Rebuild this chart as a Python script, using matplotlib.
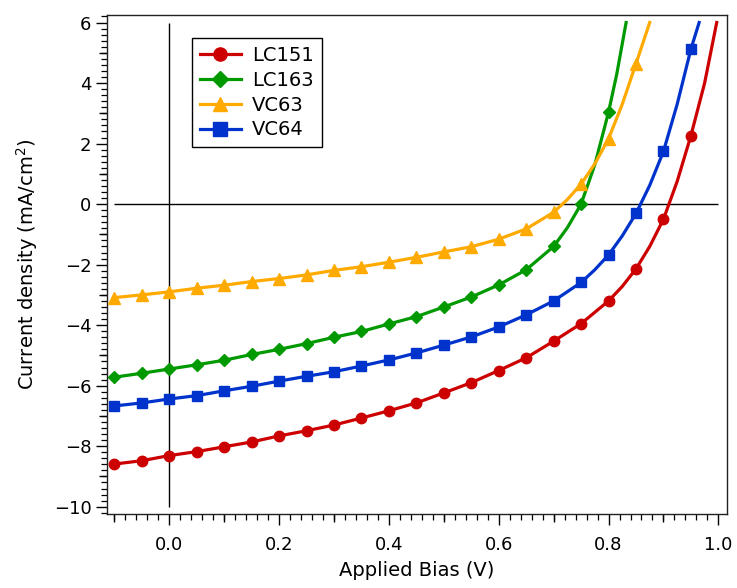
import matplotlib
matplotlib.use('Agg')
import matplotlib.pyplot as plt
from matplotlib.ticker import MultipleLocator, NullLocator

# bias points where markers are drawn (V)
V = [-0.10, -0.05, 0.00, 0.05, 0.10, 0.15, 0.20, 0.25, 0.30, 0.35, 0.40,
     0.45, 0.50, 0.55, 0.60, 0.65, 0.70, 0.75, 0.80, 0.85, 0.90, 0.95]

# current density at the markers (mA/cm2)
LC151 = [-8.59, -8.48, -8.31, -8.18, -8.02, -7.86, -7.66, -7.49, -7.30, -7.07, -6.83,
         -6.57, -6.24, -5.90, -5.50, -5.08, -4.53, -3.95, -3.20, -2.14, -0.50, 2.26]
LC163 = [-5.72, -5.59, -5.45, -5.31, -5.16, -4.97, -4.80, -4.61, -4.40, -4.21, -3.96,
         -3.72, -3.40, -3.07, -2.67, -2.17, -1.40, 0.00, 3.04]
VC63 = [-3.09, -3.00, -2.90, -2.78, -2.68, -2.56, -2.46, -2.34, -2.19, -2.07, -1.92,
        -1.76, -1.58, -1.41, -1.16, -0.82, -0.27, 0.66, 2.16, 4.64]
VC64 = [-6.67, -6.57, -6.44, -6.33, -6.17, -6.02, -5.85, -5.69, -5.54, -5.35, -5.15,
        -4.92, -4.66, -4.39, -4.06, -3.66, -3.20, -2.59, -1.68, -0.31, 1.74, 5.12]

# extra points (steep part + end of line)
LC151_xv = [0.825, 0.875, 0.925, 0.975, 0.997]
LC151_xj = [-2.72, -1.40, 0.75, 4.00, 6.00]
LC163_xv = [0.725, 0.775, 0.815, 0.832]
LC163_xj = [-0.78, 1.30, 4.30, 6.00]
VC63_xv = [0.725, 0.775, 0.825, 0.875]
VC63_xj = [0.15, 1.33, 3.30, 6.00]
VC64_xv = [0.775, 0.825, 0.875, 0.925, 0.965]
VC64_xj = [-2.17, -1.05, 0.62, 3.30, 6.00]

series = [
    ('LC151', LC151, LC151_xv, LC151_xj, '#cc0000', 'o', 7.5),
    ('LC163', LC163, LC163_xv, LC163_xj, '#009900', 'D', 6.5),
    ('VC63', VC63, VC63_xv, VC63_xj, '#ffaa00', '^', 8.5),
    ('VC64', VC64, VC64_xv, VC64_xj, '#0033cc', 's', 7.5),
]

X_TICKS = [0.0, 0.2, 0.4, 0.6, 0.8, 1.0]
X_MID_TICKS = [-0.1, 0.1, 0.3, 0.5, 0.7, 0.9]
Y_TICKS = [-10, -8, -6, -4, -2, 0, 2, 4, 6]
Y_MID_TICKS = [-9, -7, -5, -3, -1, 1, 3, 5]

plt.rcParams['font.family'] = ['DejaVu Sans']

fig = plt.figure(figsize=(7.37, 5.88), dpi=100)
ax = fig.add_axes([0.1448, 0.1259, 0.8413, 0.8492])

# crosshair at origin
ax.vlines(0, -10, 6, color='black', lw=1, zorder=1)
ax.hlines(0, -0.1, 1.0, color='black', lw=1, zorder=1)

for name, j, xv, xj, col, mk, ms in series:
    vm = V[:len(j)]
    pts = sorted(list(zip(vm, j)) + list(zip(xv, xj)))
    lv = [p[0] for p in pts]
    lj = [p[1] for p in pts]
    ax.plot(lv, lj, color=col, lw=2.3, zorder=2)
    ax.plot(vm, j, ls='none', marker=mk, ms=ms, color=col, zorder=3)
    # legend proxy
    ax.plot([], [], color=col, lw=2.3, marker=mk, ms=ms + 2, label=name)

ax.set_xlim(-0.114, 1.0153)
ax.set_ylim(-10.24, 6.26)

ax.set_xticks(X_TICKS)
ax.set_xticklabels(['%.1f' % t for t in X_TICKS])
ax.xaxis.set_minor_locator(MultipleLocator(0.02))
ax.set_yticks(Y_TICKS)
ax.yaxis.set_minor_locator(MultipleLocator(0.2))

ax.tick_params(which='major', direction='out', length=8, width=1, labelsize=13)
ax.tick_params(which='minor', direction='out', length=4, width=0.9)
ax.tick_params(axis='x', which='major', pad=8)
ax.tick_params(axis='y', which='major', pad=3)

# medium-length ticks (IGOR style) at odd tenths / odd integers
secx = ax.secondary_xaxis('bottom')
secx.set_xticks(X_MID_TICKS)
secx.xaxis.set_minor_locator(NullLocator())
secx.tick_params(direction='out', length=6, width=1, labelbottom=False)
secy = ax.secondary_yaxis('left')
secy.set_yticks(Y_MID_TICKS)
secy.yaxis.set_minor_locator(NullLocator())
secy.tick_params(direction='out', length=6, width=1, labelleft=False)
for sec in (secx, secy):
    for s in sec.spines.values():
        s.set_visible(False)

for s in ax.spines.values():
    s.set_linewidth(1)
    s.set_color('#222222')

ax.set_xlabel('Applied Bias (V)', fontsize=14, labelpad=5)
ax.set_ylabel(r'Current density (mA/cm$^{\mathregular{2}}$)', fontsize=14, labelpad=10)

leg = ax.legend(loc='upper left', bbox_to_anchor=(0.1376, 0.953), fontsize=14,
                handlelength=2.1, labelspacing=0.3, handletextpad=0.6,
                borderpad=0.4, fancybox=False, framealpha=1, borderaxespad=0)
leg.get_frame().set_edgecolor('black')
leg.get_frame().set_linewidth(1)

fig.savefig('out.png', dpi=100)
